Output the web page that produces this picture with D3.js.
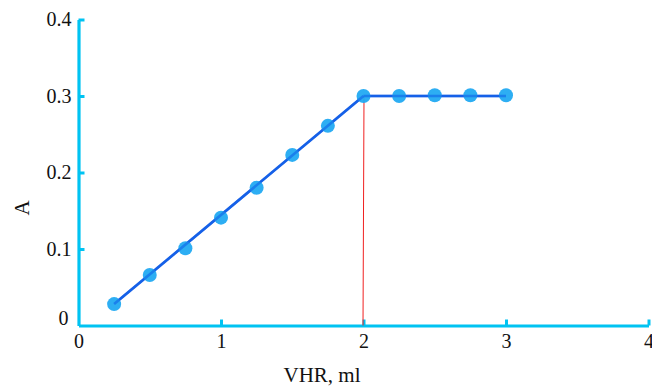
<!DOCTYPE html>
<html>
<head>
<meta charset="utf-8">
<script src="https://cdn.jsdelivr.net/npm/d3@7"></script>
<style>
  html, body { margin: 0; padding: 0; background: #fff; }
  svg { display: block; }
</style>
</head>
<body>
<svg id="chart" width="652" height="386"></svg>
<script>
// Measured absorbance A against added volume (ml)
const volumes = [0.25, 0.5, 0.75, 1.0, 1.25, 1.5, 1.75, 2.0, 2.25, 2.5, 2.75, 3.0];
const absorbance = [0.028, 0.066, 0.101, 0.141, 0.180, 0.223, 0.261, 0.300, 0.300, 0.301, 0.301, 0.301];

// Fitted segments: rising part and plateau
const riseLine = [[0.25, 0.028], [2.0, 0.300]];
const plateauLine = [[2.0, 0.300], [3.0, 0.300]];
// Equivalence point marker
const equivalenceX = 2.0;
const equivalenceY = 0.300;

const xTicks = [0, 1, 2, 3, 4];
const yTicks = [0, 0.1, 0.2, 0.3, 0.4];

const serif = "'Liberation Serif', 'Times New Roman', 'DejaVu Serif', serif";

const svg = d3.select("#chart");
const x = d3.scaleLinear().domain([0, 4]).range([78.5, 648.5]);
const y = d3.scaleLinear().domain([0, 0.4]).range([325.5, 19.5]);

const axisColor = "#00c3f2";

// Axes: ticks pointing inward
const xAxis = svg.append("g").attr("transform", `translate(0,${y(0)})`)
  .call(d3.axisBottom(x).tickValues(xTicks).tickSize(-6).tickSizeOuter(0).tickFormat(d3.format("d")));
const yAxis = svg.append("g").attr("transform", `translate(${x(0)},0)`)
  .call(d3.axisLeft(y).tickValues(yTicks).tickSize(-6).tickSizeOuter(0).tickFormat(d => d === 0 ? "0" : d3.format(".1f")(d)));

[xAxis, yAxis].forEach(g => {
  g.attr("font-family", null).attr("font-size", null);
  g.select(".domain").attr("stroke", axisColor).attr("stroke-width", 3.2);
  g.selectAll(".tick line").attr("stroke", axisColor).attr("stroke-width", 3);
  g.selectAll(".tick text")
    .style("font-family", serif)
    .style("font-size", "20px")
    .attr("fill", "#111");
});
xAxis.selectAll(".tick text").attr("dy", "0.71em").attr("y", 8);
yAxis.selectAll(".tick text").attr("x", -7).attr("dy", "0.32em");
// the "0" of the y axis sits slightly above the corner
yAxis.selectAll(".tick").filter(d => d === 0).select("text").attr("x", -10).attr("dy", "-0.05em");
// no tick marks at the corner
yAxis.selectAll(".tick").filter(d => d === 0).select("line").remove();
xAxis.selectAll(".tick").filter(d => d === 0).select("line").remove();

// Vertical guide at the equivalence point
svg.append("line")
  .attr("x1", x(equivalenceX) - 0.5).attr("y1", y(0))
  .attr("x2", x(equivalenceX) + 0.5).attr("y2", y(equivalenceY))
  .attr("stroke", "#f02020").attr("stroke-width", 1);

// Fitted lines
const lineGen = d3.line().x(d => x(d[0])).y(d => y(d[1]));
[riseLine, plateauLine].forEach(seg => {
  svg.append("path").datum(seg)
    .attr("d", lineGen)
    .attr("fill", "none")
    .attr("stroke", "#1560e8")
    .attr("stroke-width", 2.6);
});

// Data points
svg.append("g").selectAll("circle")
  .data(volumes.map((v, i) => [v, absorbance[i]]))
  .join("circle")
  .attr("cx", d => x(d[0]))
  .attr("cy", d => y(d[1]))
  .attr("r", 7)
  .attr("fill", "#22aaf2")
  .attr("fill-opacity", 0.95);

// Line shows faintly through the markers
[riseLine, plateauLine].forEach(seg => {
  svg.append("path").datum(seg)
    .attr("d", lineGen)
    .attr("fill", "none")
    .attr("stroke", "#1560e8")
    .attr("stroke-width", 2.6)
    .attr("stroke-opacity", 0.55);
});

// Axis titles
svg.append("text")
  .attr("x", 322).attr("y", 382)
  .attr("text-anchor", "middle")
  .style("font-family", serif)
  .style("font-size", "21px")
  .attr("fill", "#111")
  .text("VHR, ml");

svg.append("text")
  .attr("transform", `translate(29,${208}) rotate(-90)`)
  .attr("text-anchor", "middle")
  .style("font-family", serif)
  .style("font-size", "21px")
  .attr("fill", "#111")
  .text("A");
</script>
</body>
</html>
